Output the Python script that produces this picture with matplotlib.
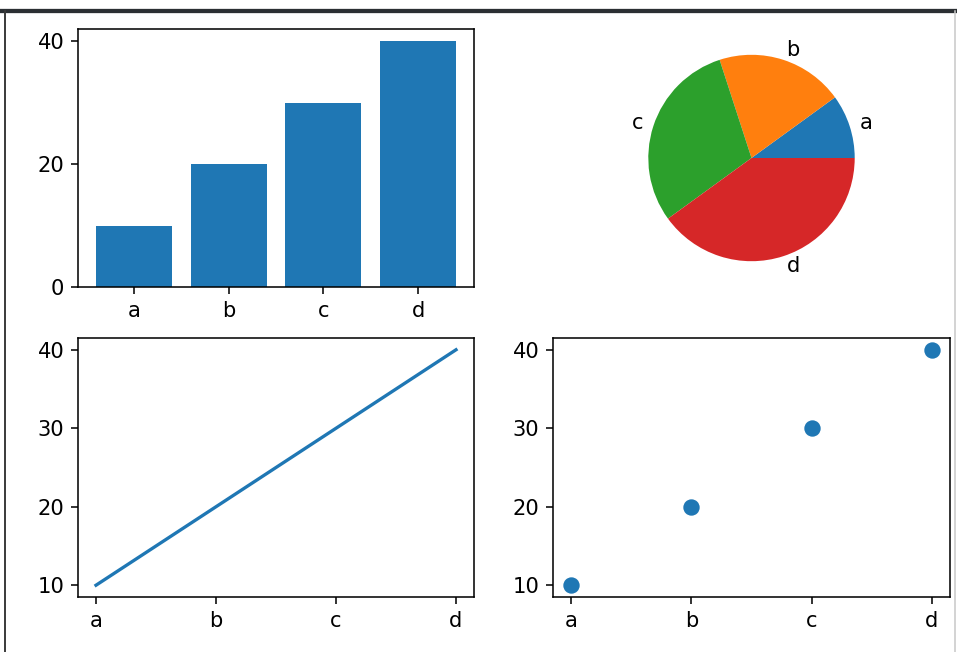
import matplotlib
matplotlib.use("Agg")
import matplotlib.pyplot as plt
from matplotlib.lines import Line2D

# datos
categorias = ["a", "b", "c", "d"]
valores = [10, 20, 30, 40]
ticks_barras = [0, 20, 40]

plt.rcParams["font.size"] = 10.8

W, H, DPI = 957, 652, 140
fig = plt.figure(figsize=(W / DPI, H / DPI), dpi=DPI)


def caja(x0, x1, y0, y1):
    # posición en píxeles -> fracción de figura
    return [x0 / W, 1 - y1 / H, (x1 - x0) / W, (y1 - y0) / H]


ax_bar = fig.add_axes(caja(78, 474, 29, 287))
ax_pie = fig.add_axes(caja(553, 950, 29, 287))
ax_lin = fig.add_axes(caja(78, 474, 338, 597))
ax_sca = fig.add_axes(caja(553, 950, 338, 597))

ax_bar.bar(categorias, valores)
ax_bar.set_yticks(ticks_barras)
ax_pie.pie(valores, labels=categorias)
ax_lin.plot(categorias, valores, lw=1.7)
ax_sca.scatter(categorias, valores, s=55)

# marco de la captura de pantalla
fig.add_artist(Line2D([0, 1], [1 - 11 / H, 1 - 11 / H], color="#2b2f33", lw=2.2))
fig.add_artist(Line2D([5 / W, 5 / W], [0, 1 - 11 / H], color="#3a3a3a", lw=1.0))
fig.add_artist(Line2D([955 / W, 955 / W], [0, 1 - 11 / H], color="#c8c8c8", lw=0.8))

fig.savefig("out.png", dpi=DPI)
